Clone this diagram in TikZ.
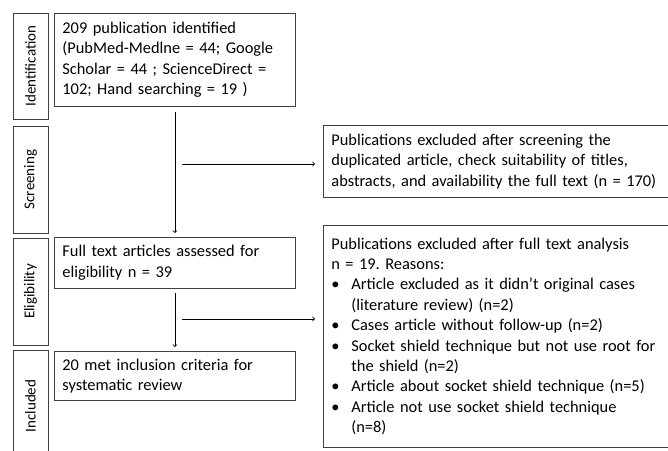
\documentclass[tikz,border=0pt]{standalone}
\usepackage{fontspec}
\setmainfont{Carlito}
\usetikzlibrary{positioning}
\frenchspacing
\newcommand{\reason}[1]{\par\hangindent=20pt\hangafter=1\noindent\makebox[20pt][l]{\textbullet}#1}

\begin{document}
\begin{tikzpicture}[x = 1pt, y = -1pt,
        every node/.style = {font = \fontsize{16.4}{20.4}\selectfont},
        framed/.style = {draw = black!75, line width = 0.8pt},
        stagebox/.style = {framed, rotate = 90, minimum height = 35pt, inner sep = 0pt, font = \fontsize{15}{18}\selectfont},
        mainbox/.style = {framed, anchor = north west, text width = 225pt, inner xsep = 8pt, align = left},
        exclbox/.style = {framed, anchor = north west, text width = 345pt, inner xsep = 8pt, align = left},
        flow/.style = {->, line width = 0.8pt}]
    \clip (0,0) rectangle (668,450);
    % stages
    \node[stagebox, minimum width = 106pt] (identification) at (30.5,66) {Identification};
    \node[stagebox, minimum width = 107pt] (screening) at (30.5,179.5) {Screening};
    \node[stagebox, minimum width = 107pt] (eligibility) at (30.5,291.5) {Eligibility};
    \node[stagebox, minimum width = 112pt] (included) at (30.5,406) {Included};
    % main flow
    \node[mainbox, minimum height = 93pt] (identified) at (54,13)
        {209 publication identified\\ (PubMed-Medlne = 44; Google\\ Scholar = 44 ; ScienceDirect =\\ 102; Hand searching = 19 )};
    \node[mainbox, minimum height = 51pt] (fulltext) at (54,237)
        {Full text articles assessed for\\ eligibility n = 39};
    \node[mainbox, minimum height = 49pt] (met) at (54,351)
        {20 met inclusion criteria for\\ systematic review};
    % exclusions
    \node[exclbox, minimum height = 72pt] (screened) at (323,125)
        {Publications excluded after screening the\\ duplicated article, check suitability of titles,\\ abstracts, and availability the full text (n = 170)};
    \node[exclbox, minimum height = 222pt] (reasons) at (323,225)
        {Publications excluded after full text analysis\\ n = 19. Reasons:
        \reason{Article excluded as it didn’t original cases\newline (literature review) (n=2)}
        \reason{Cases article without follow-up (n=2)}
        \reason{Socket shield technique but not use root for\newline the shield (n=2)}
        \reason{Article about socket shield technique (n=5)}
        \reason{Article not use socket shield technique\newline (n=8)}\par};
    % arrows
    \coordinate (split1) at (182,164);
    \coordinate (split2) at (182,319);
    \draw[flow, shorten <= 5pt, shorten >= 4pt] (identified.south) -- (fulltext.north);
    \draw[flow, shorten <= 4pt, shorten >= 4pt] (fulltext.south) -- (met.north);
    \draw[flow, shorten >= 8pt] (split1) -- (split1 -| screened.west);
    \draw[flow, shorten >= 8pt] (split2) -- (split2 -| reasons.west);
\end{tikzpicture}
\end{document}
